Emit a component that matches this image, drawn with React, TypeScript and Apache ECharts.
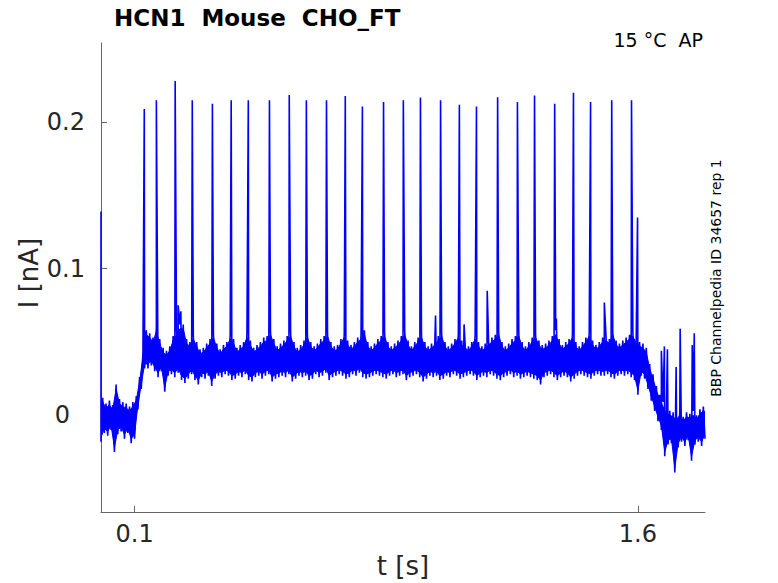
import React, { useEffect, useRef } from 'react';
import * as echarts from 'echarts';

// sampling of the envelope arrays below (s)
const SAMPLE_STEP = 0.01;

// current at t = 0 (capacitive transient at the very start)
const onsetPeak = 0.139;

// lower edge of the noisy trace, one value per 10 ms, 0 .. 1.8 s (nA)
const traceLow = [
  -0.018, -0.012, -0.014, -0.010, -0.025, -0.013, -0.011, -0.016, -0.012, -0.019,
  -0.016, 0.004, 0.018, 0.032, 0.032, 0.034, 0.030, 0.026, 0.030, 0.016,
  0.027, 0.028, 0.026, 0.029, 0.024, 0.022, 0.025, 0.028, 0.024, 0.021,
  0.026, 0.025, 0.027, 0.020, 0.025, 0.027, 0.026, 0.028, 0.027, 0.024,
  0.025, 0.027, 0.026, 0.028, 0.024, 0.023, 0.026, 0.027, 0.025, 0.027,
  0.028, 0.023, 0.025, 0.026, 0.027, 0.026, 0.028, 0.023, 0.025, 0.027,
  0.026, 0.027, 0.024, 0.025, 0.028, 0.026, 0.027, 0.029, 0.024, 0.026,
  0.027, 0.028, 0.027, 0.025, 0.026, 0.028, 0.027, 0.029, 0.026, 0.025,
  0.026, 0.027, 0.028, 0.027, 0.026, 0.025, 0.027, 0.028, 0.026, 0.027,
  0.028, 0.024, 0.026, 0.027, 0.028, 0.026, 0.023, 0.025, 0.027, 0.026,
  0.027, 0.024, 0.025, 0.027, 0.026, 0.028, 0.027, 0.025, 0.026, 0.027,
  0.028, 0.027, 0.024, 0.026, 0.027, 0.026, 0.028, 0.027, 0.025, 0.024,
  0.026, 0.027, 0.028, 0.026, 0.027, 0.025, 0.026, 0.027, 0.026, 0.025,
  0.024, 0.021, 0.026, 0.027, 0.028, 0.026, 0.024, 0.026, 0.027, 0.026,
  0.023, 0.025, 0.027, 0.028, 0.027, 0.026, 0.025, 0.027, 0.028, 0.027,
  0.027, 0.028, 0.026, 0.025, 0.027, 0.028, 0.027, 0.028, 0.026, 0.024,
  0.014, 0.027, 0.025, 0.018, 0.010, 0.003, -0.004, -0.010, -0.028, -0.020,
  -0.019, -0.039, -0.022, -0.018, -0.021, -0.017, -0.031, -0.020, -0.018, -0.021,
  -0.016,
];

// upper edge of the noisy trace, same sampling (nA)
const traceHigh = [
  0.012, 0.008, 0.010, 0.007, 0.021, 0.011, 0.009, 0.008, 0.006, 0.009,
  0.013, 0.026, 0.043, 0.058, 0.056, 0.053, 0.060, 0.052, 0.046, 0.044,
  0.047, 0.054, 0.058, 0.062, 0.062, 0.052, 0.050, 0.055, 0.050, 0.045,
  0.046, 0.049, 0.052, 0.056, 0.049, 0.045, 0.048, 0.050, 0.055, 0.052,
  0.046, 0.048, 0.050, 0.056, 0.051, 0.046, 0.048, 0.050, 0.053, 0.054,
  0.058, 0.052, 0.047, 0.049, 0.051, 0.054, 0.057, 0.050, 0.046, 0.048,
  0.051, 0.056, 0.050, 0.047, 0.049, 0.052, 0.054, 0.057, 0.050, 0.047,
  0.048, 0.052, 0.056, 0.051, 0.048, 0.050, 0.053, 0.055, 0.058, 0.050,
  0.047, 0.049, 0.052, 0.054, 0.057, 0.050, 0.047, 0.049, 0.051, 0.054,
  0.058, 0.051, 0.047, 0.050, 0.053, 0.056, 0.050, 0.047, 0.049, 0.051,
  0.054, 0.057, 0.050, 0.047, 0.049, 0.052, 0.056, 0.051, 0.049, 0.047,
  0.050, 0.055, 0.050, 0.047, 0.049, 0.051, 0.053, 0.055, 0.058, 0.050,
  0.047, 0.049, 0.052, 0.054, 0.057, 0.050, 0.047, 0.050, 0.053, 0.056,
  0.051, 0.048, 0.049, 0.051, 0.054, 0.058, 0.052, 0.048, 0.050, 0.052,
  0.056, 0.050, 0.047, 0.050, 0.053, 0.057, 0.051, 0.048, 0.050, 0.053,
  0.054, 0.052, 0.058, 0.051, 0.049, 0.051, 0.053, 0.055, 0.057, 0.052,
  0.050, 0.049, 0.046, 0.035, 0.028, 0.020, 0.014, 0.009, 0.004, 0.003,
  0.002, 0.000, 0.003, -0.001, 0.002, 0.001, 0.003, 0.000, 0.004, 0.006,
  0.005,
];

// action-potential-like spikes during the step (s, nA)
const spikeTimes = [
  0.129, 0.165, 0.221, 0.272, 0.332, 0.388, 0.439, 0.502, 0.561, 0.612,
  0.672, 0.728, 0.779, 0.842, 0.901, 0.952, 1.012, 1.068, 1.119, 1.182,
  1.241, 1.292, 1.352, 1.408, 1.459, 1.522, 1.581,
];
const spikePeaks = [
  0.209, 0.215, 0.228, 0.215, 0.2125, 0.215, 0.215, 0.215, 0.2186, 0.215,
  0.215, 0.2179, 0.2106, 0.2138, 0.215, 0.2168, 0.215, 0.2118, 0.2106, 0.217,
  0.2138, 0.2181, 0.2125, 0.22, 0.2138, 0.215, 0.215,
];

// smaller events on the plateau and after the step (s, nA)
const minorTimes = [
  0.230, 0.238, 0.997, 1.082, 1.151, 1.357, 1.500, 1.599,
  1.670, 1.679, 1.688, 1.714, 1.726, 1.762, 1.768,
];
const minorPeaks = [
  0.075, 0.071, 0.068, 0.062, 0.085, 0.066, 0.077, 0.135,
  0.044, 0.047, 0.045, 0.033, 0.059, 0.048, 0.056,
];

const xTicks = [0.1, 1.6];
const yTicks = [0, 0.1, 0.2];

const FONT = 'DejaVu Sans';
const BLUE = '#0000ff';
// how far the solid core of the band sits inside the envelope (nA)
const CORE_INSET = 0.003;

function buildTrace(): number[][] {
  const pts: number[][] = [[0, onsetPeak]];
  traceLow.forEach((lo, i) => {
    const t = i * SAMPLE_STEP;
    pts.push([t, lo]);
    if (t + SAMPLE_STEP / 2 <= 1.8) pts.push([t + SAMPLE_STEP / 2, traceHigh[i]]);
  });
  spikeTimes.forEach((t, i) => pts.push([t, spikePeaks[i]]));
  minorTimes.forEach((t, i) => pts.push([t, minorPeaks[i]]));
  return pts
    .map((p, idx) => ({ p, idx }))
    .sort((a, b) => a.p[0] - b.p[0] || a.idx - b.idx)
    .map((o) => o.p);
}

const App: React.FC = () => {
  const chartRef = useRef<HTMLDivElement>(null);

  useEffect(() => {
    if (!chartRef.current) return;
    const chart = echarts.init(chartRef.current, null, { renderer: 'svg' });

    chart.setOption({
      animation: false,
      backgroundColor: '#fff',
      title: {
        text: 'HCN1  Mouse  CHO_FT',
        left: 114,
        top: 6,
        padding: 0,
        textStyle: { fontFamily: FONT, fontWeight: 'bold', fontSize: 23, color: '#000' },
      },
      grid: { left: 101, right: 73, top: 43, bottom: 71, outerBoundsMode: 'none' },
      xAxis: {
        type: 'value',
        min: 0,
        max: 1.8,
        axisLine: { show: true, onZero: false, lineStyle: { color: '#666', width: 1 } },
        axisTick: { show: true, inside: true, length: 6, customValues: xTicks, lineStyle: { color: '#666' } },
        axisLabel: { customValues: xTicks, margin: 10, fontSize: 24, fontFamily: FONT, color: '#262626' },
        splitLine: { show: false },
      },
      yAxis: {
        type: 'value',
        min: -0.066,
        max: 0.254,
        axisLine: { show: true, onZero: false, lineStyle: { color: '#666', width: 1 } },
        axisTick: { show: true, inside: true, length: 6, customValues: yTicks, lineStyle: { color: '#666' } },
        axisLabel: {
          customValues: yTicks,
          margin: 16,
          fontSize: 24,
          fontFamily: FONT,
          color: '#262626',
          formatter: (v: number) => (v === 0 ? '{z|0}' : String(v)),
          rich: { z: { fontSize: 24, fontFamily: FONT, color: '#262626', padding: [0, 15, 0, 0] } },
        },
        splitLine: { show: false },
      },
      graphic: [
        {
          type: 'text',
          x: 403,
          y: 566,
          style: {
            text: 't [s]', fontFamily: FONT, fontSize: 26, fill: '#262626',
            align: 'center', verticalAlign: 'middle',
          },
        },
        {
          type: 'text',
          x: 29,
          y: 273,
          rotation: Math.PI / 2,
          style: {
            text: 'I [nA]', fontFamily: FONT, fontSize: 26, fill: '#262626',
            align: 'center', verticalAlign: 'middle',
          },
        },
        {
          type: 'text',
          x: 703,
          y: 40,
          style: {
            text: '15 °C  AP', fontFamily: FONT, fontSize: 19, fill: '#000',
            align: 'right', verticalAlign: 'middle',
          },
        },
        {
          type: 'text',
          x: 716,
          y: 278,
          rotation: Math.PI / 2,
          style: {
            text: 'BBP Channelpedia ID 34657 rep 1', fontFamily: FONT, fontSize: 14, fill: '#000',
            align: 'center', verticalAlign: 'middle',
          },
        },
      ],
      series: [
        {
          // solid core of the noise band
          type: 'custom',
          data: [[0, 0]],
          clip: true,
          silent: true,
          renderItem: (_params: any, api: any) => {
            const upper = traceHigh.map((v, i) =>
              api.coord([i * SAMPLE_STEP + SAMPLE_STEP / 2, v - CORE_INSET])
            );
            const lower = traceLow
              .map((v, i) => api.coord([i * SAMPLE_STEP, v + CORE_INSET]))
              .reverse();
            return {
              type: 'polygon',
              shape: { points: upper.concat(lower) },
              style: { fill: BLUE, stroke: BLUE, lineWidth: 1 },
            };
          },
        },
        {
          type: 'line',
          data: buildTrace(),
          showSymbol: false,
          symbol: 'none',
          clip: true,
          lineStyle: { color: BLUE, width: 1.6 },
          emphasis: { disabled: true },
        },
      ],
    });

    return () => chart.dispose();
  }, []);

  return (
    <div
      ref={chartRef}
      style={{ position: 'fixed', left: 0, top: 0, width: 778, height: 583, background: '#fff' }}
    />
  );
};

export default App;
